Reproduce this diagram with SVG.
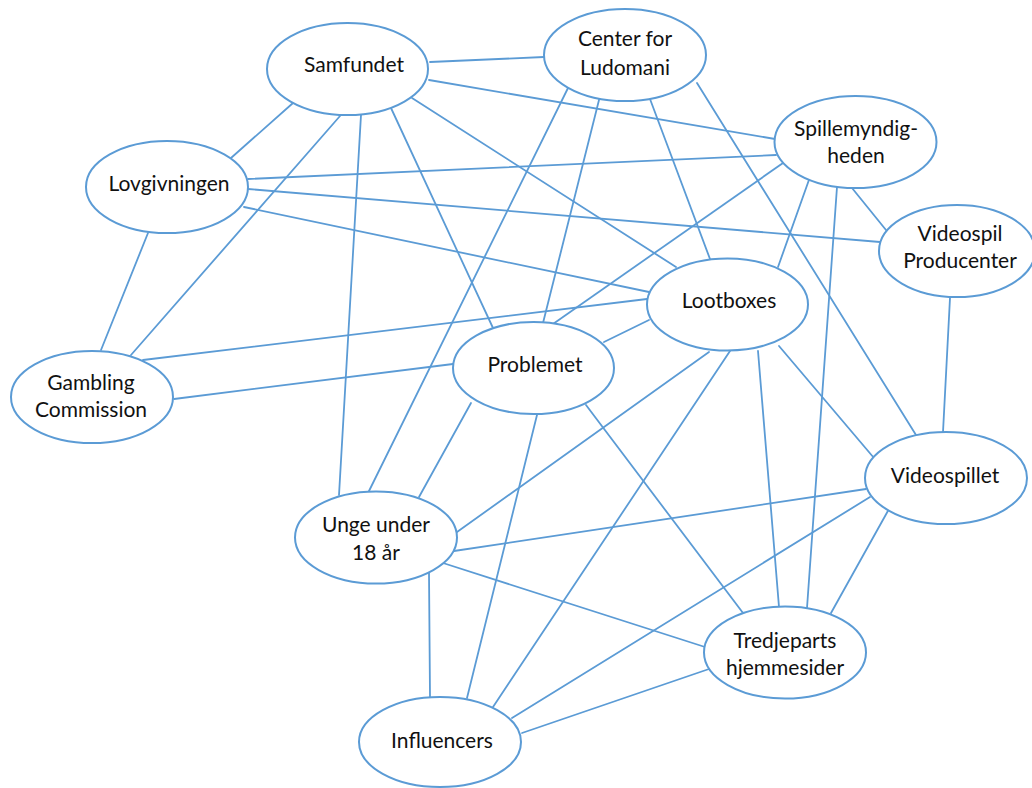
<svg xmlns="http://www.w3.org/2000/svg" width="1032" height="788" viewBox="0 0 1032 788">
<style>
.e{fill:#fff;stroke:#5b9bd5;stroke-width:2}
.c line{stroke:#5b9bd5;stroke-width:1.8;stroke-linecap:round}
text{font-family:Lato,"Open Sans","Liberation Sans",sans-serif;font-size:21px;fill:#111;text-anchor:middle}
</style>
<rect width="1032" height="788" fill="#fff"/>
<g id="connectors" class="c">
<line x1="430" y1="62" x2="544" y2="57"/>
<line x1="429" y1="80" x2="775" y2="139"/>
<line x1="293" y1="103" x2="231" y2="158"/>
<line x1="340" y1="116" x2="131" y2="355"/>
<line x1="361" y1="115" x2="339" y2="495"/>
<line x1="391" y1="108" x2="493" y2="328"/>
<line x1="412" y1="98" x2="676" y2="267"/>
<line x1="248" y1="179" x2="776" y2="155"/>
<line x1="248" y1="189" x2="880" y2="242"/>
<line x1="244" y1="207" x2="649" y2="292"/>
<line x1="148" y1="233" x2="101" y2="350"/>
<line x1="143" y1="360" x2="647" y2="299"/>
<line x1="174" y1="399" x2="453" y2="364"/>
<line x1="600" y1="96" x2="543" y2="323"/>
<line x1="569" y1="86" x2="369" y2="491"/>
<line x1="650" y1="99" x2="710" y2="259"/>
<line x1="697" y1="83" x2="916" y2="435"/>
<line x1="783" y1="163" x2="553" y2="324"/>
<line x1="810" y1="177" x2="778" y2="267"/>
<line x1="837" y1="187" x2="807" y2="608"/>
<line x1="852" y1="188" x2="886" y2="230"/>
<line x1="950" y1="298" x2="943" y2="432"/>
<line x1="649" y1="320" x2="604" y2="342"/>
<line x1="709" y1="352" x2="457" y2="532"/>
<line x1="730" y1="351" x2="493" y2="707"/>
<line x1="758" y1="351" x2="779" y2="607"/>
<line x1="779" y1="346" x2="874" y2="458"/>
<line x1="471" y1="403" x2="419" y2="497"/>
<line x1="537" y1="415" x2="467" y2="698"/>
<line x1="586" y1="405" x2="743" y2="613"/>
<line x1="454" y1="551" x2="866" y2="489"/>
<line x1="443" y1="563" x2="705" y2="647"/>
<line x1="429" y1="573" x2="430" y2="697"/>
<line x1="870" y1="497" x2="512" y2="718"/>
<line x1="889" y1="509" x2="831" y2="613"/>
<line x1="709" y1="669" x2="522" y2="733"/>
</g>
<g id="samfundet"><ellipse class="e" cx="347.5" cy="69" rx="80.5" ry="46"/><text x="354" y="72">Samfundet</text></g>
<g id="center-for-ludomani"><ellipse class="e" cx="625" cy="55" rx="81" ry="46"/><text x="625" y="46">Center for</text><text x="625" y="75">Ludomani</text></g>
<g id="spillemyndigheden"><ellipse class="e" cx="855.5" cy="142" rx="81" ry="46"/><text x="856" y="136">Spillemyndig-</text><text x="856" y="163">heden</text></g>
<g id="lovgivningen"><ellipse class="e" cx="167" cy="187" rx="81" ry="46"/><text x="169" y="191">Lovgivningen</text></g>
<g id="videospil-producenter"><ellipse class="e" cx="957" cy="251" rx="78" ry="46"/><text x="960" y="241">Videospil</text><text x="960" y="268">Producenter</text></g>
<g id="lootboxes"><ellipse class="e" cx="727.5" cy="304.5" rx="80.5" ry="46"/><text x="729" y="308">Lootboxes</text></g>
<g id="problemet"><ellipse class="e" cx="533.5" cy="368" rx="80.5" ry="46"/><text x="535" y="372">Problemet</text></g>
<g id="gambling-commission"><ellipse class="e" cx="92" cy="397" rx="81" ry="46"/><text x="91" y="390">Gambling</text><text x="91" y="417">Commission</text></g>
<g id="videospillet"><ellipse class="e" cx="946" cy="478" rx="81" ry="46"/><text x="945" y="483">Videospillet</text></g>
<g id="unge-under-18"><ellipse class="e" cx="376" cy="537.5" rx="81" ry="46"/><text x="376" y="532">Unge under</text><text x="376" y="560">18 år</text></g>
<g id="tredjeparts-hjemmesider"><ellipse class="e" cx="785" cy="652.5" rx="81" ry="46"/><text x="785" y="648">Tredjeparts</text><text x="785" y="675">hjemmesider</text></g>
<g id="influencers"><ellipse class="e" cx="440" cy="742" rx="81" ry="45"/><text x="442" y="748">Influencers</text></g>
</svg>
